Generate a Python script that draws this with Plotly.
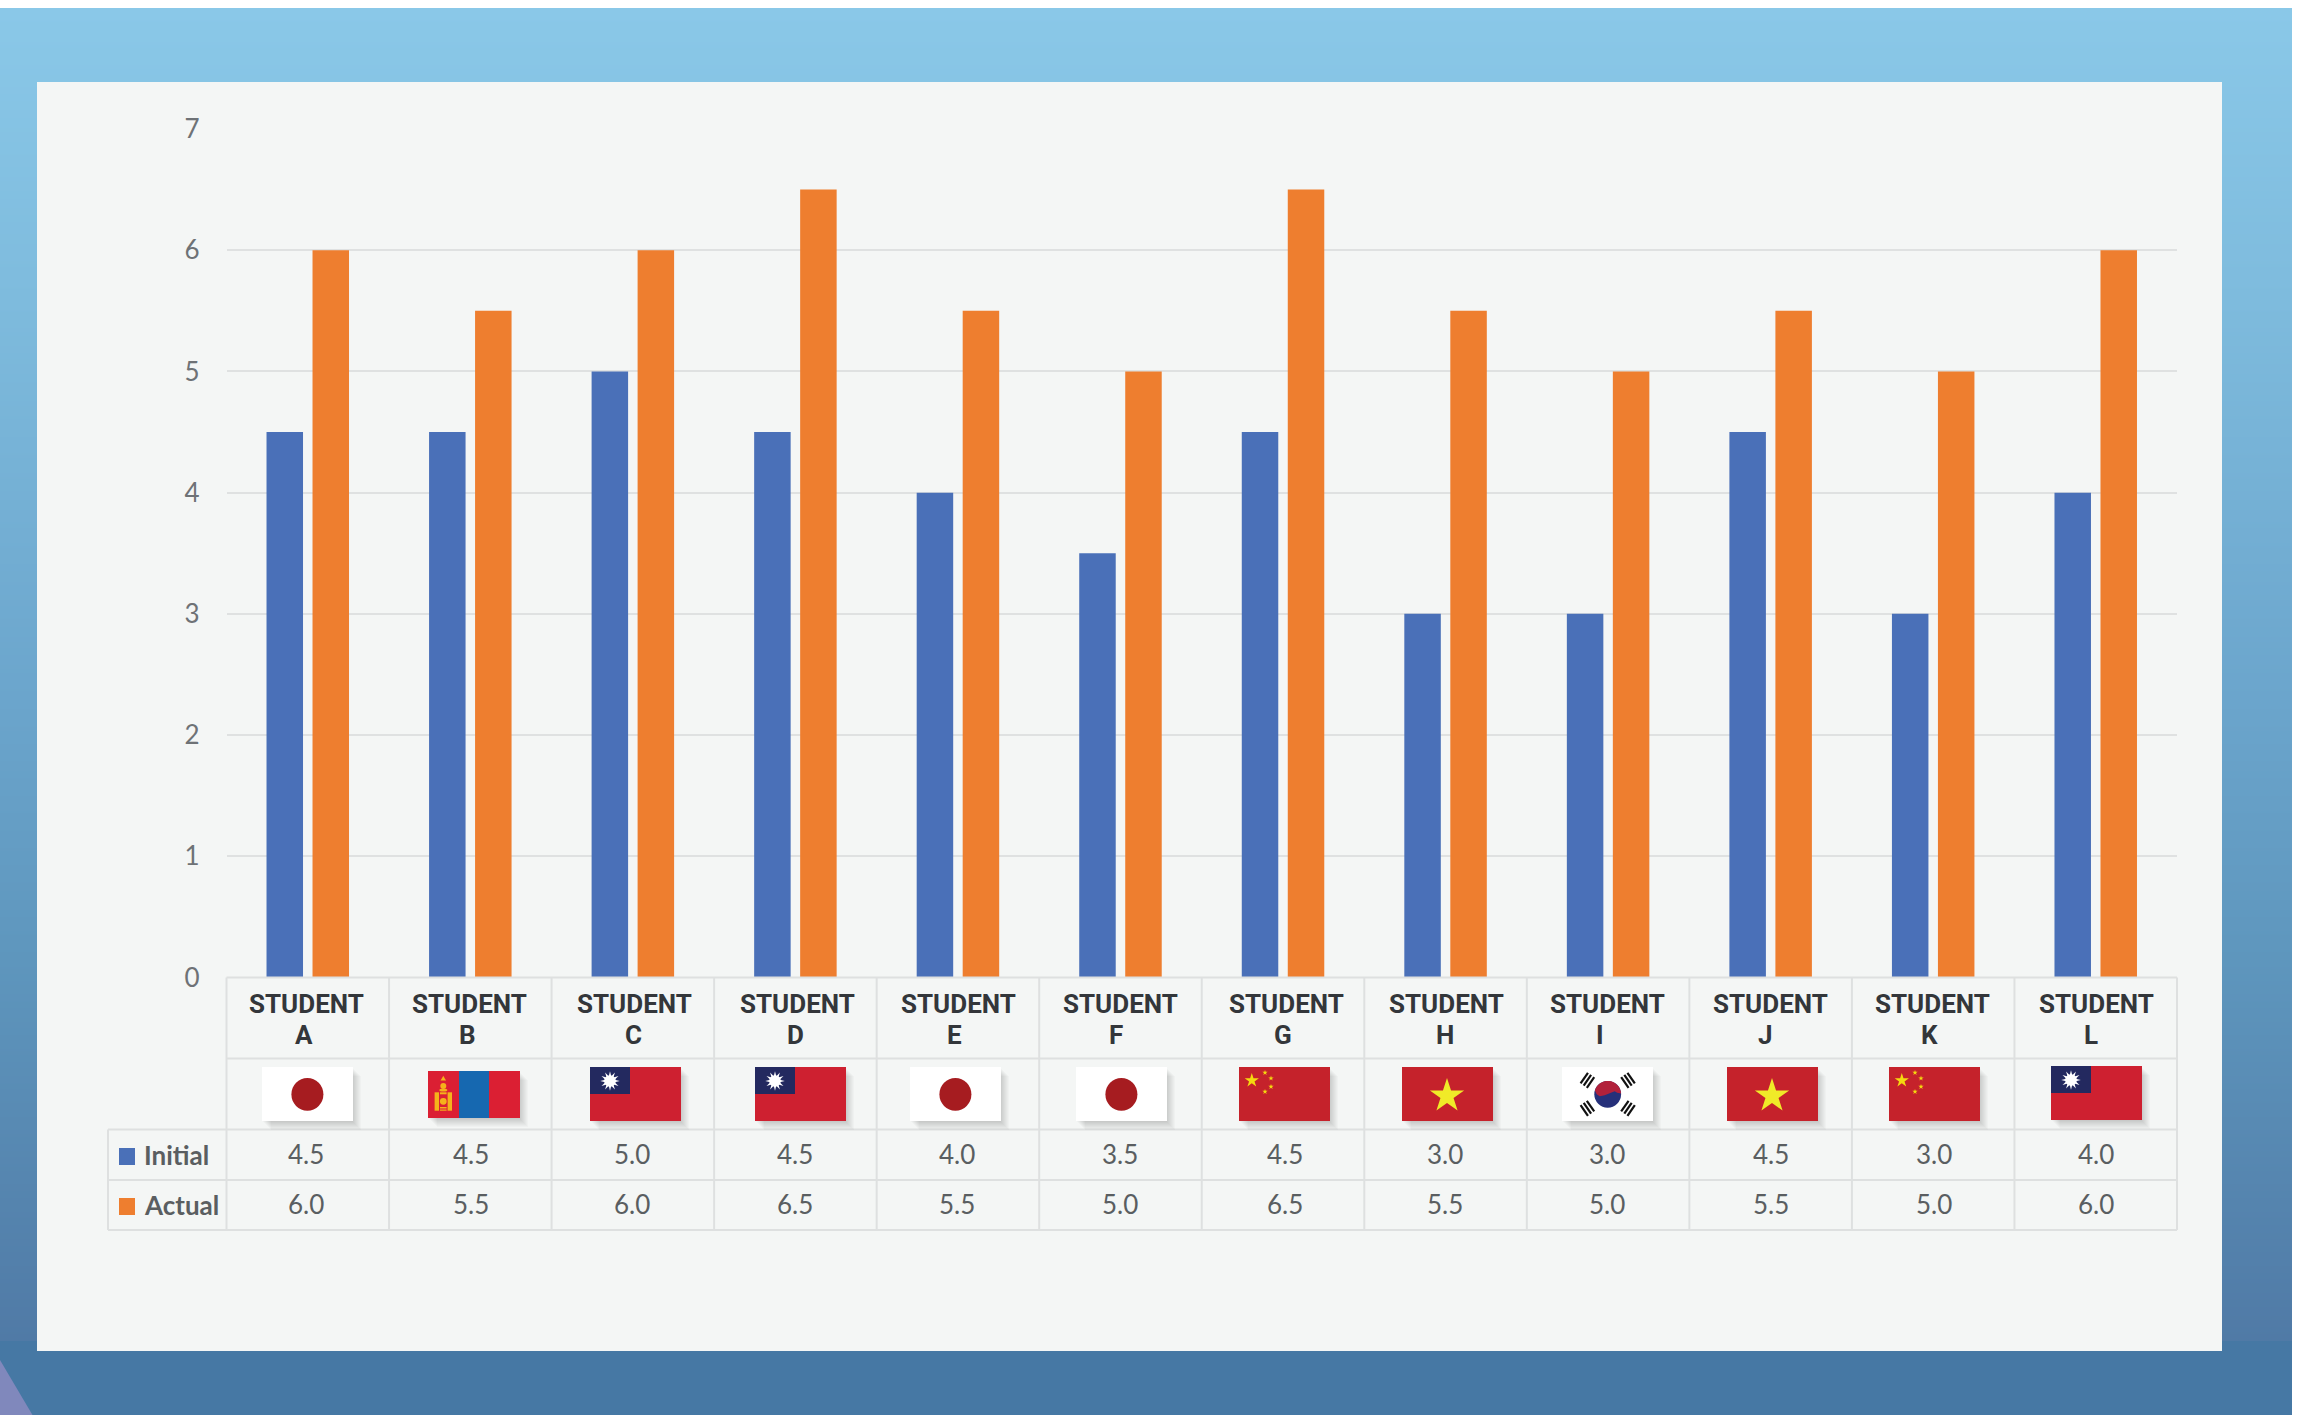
import math, zlib, struct, base64
import plotly.graph_objects as go

# ---------- data ----------
students = ["STUDENT A","STUDENT B","STUDENT C","STUDENT D","STUDENT E","STUDENT F",
            "STUDENT G","STUDENT H","STUDENT I","STUDENT J","STUDENT K","STUDENT L"]
initial = [4.5,4.5,5.0,4.5,4.0,3.5,4.5,3.0,3.0,4.5,3.0,4.0]
actual  = [6.0,5.5,6.0,6.5,5.5,5.0,6.5,5.5,5.0,5.5,5.0,6.0]
flags   = ["JP","MN","TW","TW","JP","JP","CN","VN","KR","VN","CN","TW"]
y_ticks = [0,1,2,3,4,5,6,7]

# ---------- layout constants (pixels) ----------
W, H = 2305, 1415
PL, PR, PT, PB = 226.5, 2177, 129, 977.5
ROWS = [977.5, 1058.5, 1129.5, 1180, 1230]
LEFT = 108
CW = (PR-PL)/12
BLUE, ORANGE = "#4A70B8", "#EE7E2F"
LINE = "#DEE0E0"
FONT = "Lato"
DARK = "#33363A"
GREY = "#5A5E61"
flag_x = [262,428,590,755,910,1076,1239,1402,1562,1727,1889,2051]
FW = 91
word_x = [306,469,634,797,958,1120,1286,1446,1607,1770,1932,2096]
letter_x = [304,467,633,795,954,1116,1283,1445,1600,1765,1929,2091]
val_x = [306,471,632,795,957,1120,1285,1445,1607,1771,1934,2096]

def X(x): return x/W
def Y(y): return 1-y/H

shapes, ann = [], []
def rect(x0,y0,x1,y1,fill,op=1.0,layer="above"):
    shapes.append(dict(type="rect",xref="paper",yref="paper",x0=X(x0),x1=X(x1),y0=Y(y1),y1=Y(y0),
                       fillcolor=fill,opacity=op,line=dict(width=0),layer=layer))
def line(x0,y0,x1,y1,c=LINE,w=2):
    shapes.append(dict(type="line",xref="paper",yref="paper",x0=X(x0),x1=X(x1),y0=Y(y0),y1=Y(y1),
                       line=dict(color=c,width=w),layer="above"))
def ell(cx,cy,rx,ry,fill):
    shapes.append(dict(type="circle",xref="paper",yref="paper",x0=X(cx-rx),x1=X(cx+rx),y0=Y(cy+ry),y1=Y(cy-ry),
                       fillcolor=fill,line=dict(width=0),layer="above"))
def poly(pts,fill,layer="above"):
    d="M"+"L".join(f"{X(a):.6f},{Y(b):.6f}" for a,b in pts)+"Z"
    shapes.append(dict(type="path",xref="paper",yref="paper",path=d,fillcolor=fill,line=dict(width=0),layer=layer))
def star(cx,cy,R,fill,n=5,ratio=0.382,rot=-90):
    pts=[]
    for i in range(2*n):
        r=R if i%2==0 else R*ratio
        a=math.radians(rot+i*180/n)
        pts.append((cx+r*math.cos(a),cy+r*math.sin(a)))
    poly(pts,fill)
def text(x,y,s,size,color,bold=False,anchor="center",font=FONT):
    ann.append(dict(xref="paper",yref="paper",x=X(x),y=Y(y),text=f"<b>{s}</b>" if bold else s,showarrow=False,
                    xanchor=anchor,yanchor="middle",font=dict(family=font,size=size,color=color)))

# ---------- gradient background as a 1-pixel-wide PNG ----------
stops=[(8,(138,200,232)),(300,(126,187,221)),(700,(107,165,204)),(960,(94,150,189)),
       (1340,(80,122,166)),(1341,(70,120,164)),(1415,(70,120,164))]
def col(y):
    for (a,ca),(b,cb) in zip(stops,stops[1:]):
        if y<=b:
            t=(y-a)/(b-a)
            return bytes(round(p+(q-p)*t) for p,q in zip(ca,cb))
    return bytes(stops[-1][1])
raw=b"".join(b"\0"+col(y) for y in range(8,1415))
def chunk(t,d): return struct.pack(">I",len(d))+t+d+struct.pack(">I",zlib.crc32(t+d)&0xffffffff)
png=b"\x89PNG\r\n\x1a\n"+chunk(b"IHDR",struct.pack(">IIBBBBB",1,1407,8,2,0,0,0))+chunk(b"IDAT",zlib.compress(raw))+chunk(b"IEND",b"")
bg_uri="data:image/png;base64,"+base64.b64encode(png).decode()

# ---------- decor ----------
poly([(0,1360),(32.5,1415),(0,1415)],"#8088BC",layer="below")
rect(37,82,2222,1351,"#F4F6F5",layer="below")

# ---------- table ----------
for y in ROWS:
    line(PL if y<ROWS[2] else LEFT,y,PR,y)
for i in range(13):
    line(PL+i*CW,ROWS[0],PL+i*CW,ROWS[-1])
line(LEFT,ROWS[2],LEFT,ROWS[4])

for i,s in enumerate(students):
    a,b=s.split(" ")
    text(word_x[i],1004.5,a,26,DARK,True,font="Roboto")
    text(letter_x[i],1034.5,b,26,DARK,True,font="Roboto")
    text(val_x[i],1154,f"{initial[i]:.1f}",26,GREY)
    text(val_x[i],1204,f"{actual[i]:.1f}",26,GREY)

rect(119,1148,135,1165,BLUE)
rect(119,1198,135,1215,ORANGE)
text(142,1155,"Initial",26,GREY,True,"left")
text(142,1205,"Actual",26,GREY,True,"left")

# ---------- flags ----------
def shadow(x0,y0,x1,y1):
    for k in range(9,0,-1):
        rect(x0+k,y0+k,x1+k-1,y1+k,"#000000",0.018)
def flag_jp(x,y0,y1):
    shadow(x,y0,x+FW,y1); rect(x,y0,x+FW,y1,"#FFFFFF")
    ell(x+45.4,(y0+y1)/2+0.3,16,16.4,"#A61C20")
def flag_tw(x,y0,y1):
    shadow(x,y0,x+FW,y1); rect(x,y0,x+FW,y1,"#CE2030")
    rect(x,y0,x+40,y0+27,"#23295F")
    cx,cy=x+20,y0+14
    star(cx,cy,9.8,"#FFFFFF",n=12,ratio=0.5)
    ell(cx,cy,5.8,5.8,"#FFFFFF")
def flag_cn(x,y0,y1):
    shadow(x,y0,x+FW,y1); rect(x,y0,x+FW,y1,"#C5222B")
    star(x+12.8,y0+13.5,7.5,"#F5D90F")
    for dx,dy in [(26,5.7),(32,11.3),(32,19.7),(26,24.7)]:
        star(x+dx,y0+dy,2.8,"#F5D90F")
def flag_vn(x,y0,y1):
    shadow(x,y0,x+FW,y1); rect(x,y0,x+FW,y1,"#C5222B")
    star(x+45,y0+29,18,"#F0EA28")
def flag_mn(x,y0,y1):
    shadow(x,y0,x+FW+1,y1); rect(x,y0,x+FW+1,y1,"#DB1F33")
    rect(x+31,y0,x+61,y1,"#1668B0")
    g="#F5B21B"
    cx=x+15.3
    star(cx,y0+8,3.2,g,n=3,ratio=0.5)
    ell(cx,y0+15,3,3,g)
    ell(cx,y0+19,4,1.6,g)
    rect(cx-8.7,y0+21.3,cx-4.3,y0+39.7,g)
    rect(cx+4.3,y0+21.3,cx+8.7,y0+39.7,g)
    rect(cx-3.3,y0+21.3,cx+3.3,y0+23.3,g)
    ell(cx,y0+30.3,3.4,3.4,g)
    rect(cx-3.3,y0+36,cx+3.3,y0+37.5,g)
    rect(cx-3.3,y0+38.5,cx+3.3,y0+39.7,g)
def flag_kr(x,y0,y1):
    shadow(x,y0,x+FW,y1); rect(x,y0,x+FW,y1,"#FFFFFF")
    cx,cy=x+45.7,(y0+y1)/2+0.3
    ell(cx,cy,13.4,13.4,"#26307A")
    pts=[(cx+13.4*math.cos(math.radians(a)),cy+13.4*math.sin(math.radians(a))) for a in range(197,365,8)]
    pts+=[(cx+a,cy+b) for a,b in [(9.5,-1.5),(7,-3),(2,-1),(-3,1),(-8,2),(-11,0)]]
    poly(pts,"#B2213B")
    for sx,sy in [(-1,-1),(1,-1),(-1,1),(1,1)]:
        rx,ry=sx*20.3,sy*14
        n=math.hypot(rx,ry); ux,uy=rx/n,ry/n
        vx,vy=-uy,ux
        for k in (-3.8,0,3.8):
            tx,ty=cx+rx+ux*k,cy+ry+uy*k
            line(tx-vx*6.5,ty-vy*6.5,tx+vx*6.5,ty+vy*6.5,"#111111",2.2)
draw={"JP":flag_jp,"MN":flag_mn,"TW":flag_tw,"CN":flag_cn,"VN":flag_vn,"KR":flag_kr}
for i,f in enumerate(flags):
    if f=="MN": y0,y1=1071,1118
    elif i==11: y0,y1=1066,1120
    else: y0,y1=1067,1121
    draw[f](flag_x[i],y0,y1)

# ---------- figure ----------
fig=go.Figure()
fig.add_bar(x=students,y=initial,name="Initial",marker=dict(color=BLUE,line=dict(width=0)))
fig.add_bar(x=students,y=actual,name="Actual",marker=dict(color=ORANGE,line=dict(width=0)))
fig.update_layout(
    width=W,height=H,margin=dict(l=0,r=0,t=0,b=0,pad=0),autosize=False,
    paper_bgcolor="#FFFFFF",plot_bgcolor="rgba(0,0,0,0)",showlegend=False,
    barmode="group",bargap=0.434,bargroupgap=0.2065,
    shapes=shapes,annotations=ann,
    images=[dict(source=bg_uri,xref="paper",yref="paper",x=0,y=Y(8),sizex=2292/W,sizey=1407/H,
                 sizing="stretch",xanchor="left",yanchor="top",layer="below")],
    xaxis=dict(domain=[X(PL),X(PR)],showticklabels=False,showgrid=False,zeroline=False,showline=False,
               ticks="",automargin=False),
    yaxis=dict(domain=[Y(PB),Y(PT)],range=[0,7],tickvals=y_ticks,showgrid=True,gridcolor="#DFE1E1",gridwidth=2,
               zeroline=False,showline=False,ticks="",ticklabelstandoff=26,automargin=False,
               tickfont=dict(family=FONT,size=26,color="#6E7276")),
)
fig.write_html("out.html",config=dict(displayModeBar=False),
               post_script="document.body.style.margin='0';document.documentElement.style.overflow='hidden';")
